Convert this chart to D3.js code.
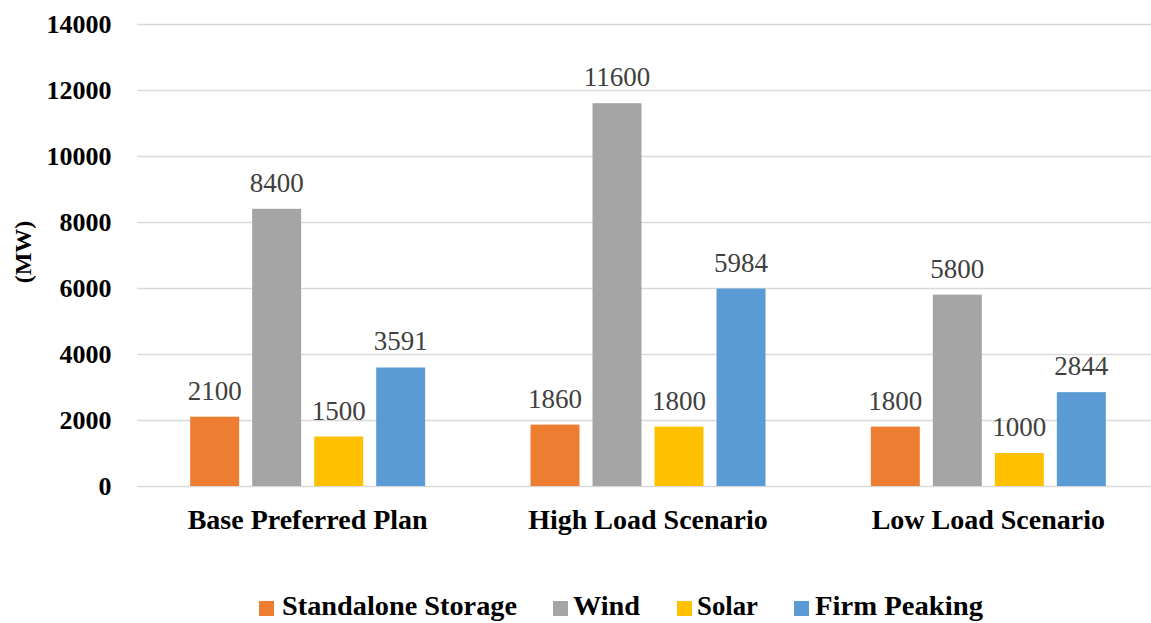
<!DOCTYPE html>
<html>
<head>
<meta charset="utf-8">
<script src="https://cdn.jsdelivr.net/npm/d3@7"></script>
<style>
  html, body { margin: 0; padding: 0; background: #fff; }
  svg { display: block; }
</style>
</head>
<body>
<svg id="chart" width="1151" height="623"></svg>
<script>
// Capacity additions by scenario (MW)
const scenarios = ["Base Preferred Plan", "High Load Scenario", "Low Load Scenario"];
const resources = ["Standalone Storage", "Wind", "Solar", "Firm Peaking"];
const standaloneStorage = [2100, 1860, 1800];
const wind = [8400, 11600, 5800];
const solar = [1500, 1800, 1000];
const firmPeaking = [3591, 5984, 2844];
const yTicks = [0, 2000, 4000, 6000, 8000, 10000, 12000, 14000];
const colors = ["#ED7D31", "#A5A5A5", "#FFC000", "#5B9BD5"];

const seriesValues = [standaloneStorage, wind, solar, firmPeaking];
const SERIF = "Liberation Serif";

const svg = d3.select("#chart");
const plot = { left: 137.5, right: 1158.5, top: 24, bottom: 486 };

const x0 = d3.scaleBand().domain(scenarios).range([plot.left, plot.right]).paddingInner(0).paddingOuter(0);
const groupWidth = 235;
const x1 = d3.scaleBand().domain(resources)
  .range([(x0.bandwidth() - groupWidth) / 2, (x0.bandwidth() + groupWidth) / 2])
  .paddingInner(0.21).paddingOuter(0);
const y = d3.scaleLinear().domain([0, 14000]).range([plot.bottom, plot.top]);

// gridlines and tick labels
const yAxis = d3.axisLeft(y).tickValues(yTicks).tickFormat(d3.format("d"))
  .tickSize(-(plot.right - plot.left)).tickPadding(26);
const gy = svg.append("g").attr("transform", `translate(${plot.left},0)`).call(yAxis);
gy.attr("font-family", SERIF);
gy.select(".domain").remove();
gy.selectAll(".tick line").attr("stroke", "#d9d9d9").attr("stroke-width", 1.5);
gy.selectAll(".tick text")
  .attr("font-weight", "bold").attr("font-size", 26).attr("fill", "#000")
  .attr("dy", "0.34em");

// y-axis title
svg.append("text")
  .attr("transform", "translate(31,252) rotate(-90)")
  .attr("text-anchor", "middle")
  .attr("font-family", SERIF)
  .attr("font-weight", "bold").attr("font-size", 24).attr("fill", "#000")
  .text("(MW)");

// bars
const rows = scenarios.map((s, i) => ({ scenario: s, vals: resources.map((r, j) => ({ r, j, v: seriesValues[j][i] })) }));
const groups = svg.append("g").selectAll("g").data(rows).join("g")
  .attr("transform", d => `translate(${x0(d.scenario)},0)`);

groups.selectAll("rect").data(d => d.vals).join("rect")
  .attr("x", d => x1(d.r))
  .attr("width", x1.bandwidth())
  .attr("y", d => y(d.v))
  .attr("height", d => y(0) - y(d.v))
  .attr("fill", d => colors[d.j]);

// value labels
groups.selectAll("text.val").data(d => d.vals).join("text")
  .attr("class", "val")
  .attr("x", d => x1(d.r) + x1.bandwidth() / 2)
  .attr("y", d => y(d.v) - 17)
  .attr("text-anchor", "middle")
  .attr("font-family", SERIF)
  .attr("font-size", 27).attr("fill", "#404040")
  .text(d => d.v);

// category labels
svg.append("g").selectAll("text").data(scenarios).join("text")
  .attr("x", d => x0(d) + x0.bandwidth() / 2)
  .attr("y", 529)
  .attr("text-anchor", "middle")
  .attr("font-family", SERIF)
  .attr("font-weight", "bold").attr("font-size", 28).attr("fill", "#000")
  .text(d => d);

// legend
const legendItems = [
  { name: resources[0], sx: 259, tx: 282, w: 235 },
  { name: resources[1], sx: 553, tx: 573, w: 67 },
  { name: resources[2], sx: 677, tx: 697, w: 61 },
  { name: resources[3], sx: 794, tx: 815, w: 168 }
];
const legend = svg.append("g");
legendItems.forEach((d, i) => {
  legend.append("rect").attr("x", d.sx).attr("y", 601).attr("width", 15).attr("height", 15).attr("fill", colors[i]);
  legend.append("text").attr("x", d.tx).attr("y", 615)
    .attr("font-family", SERIF)
    .attr("font-weight", "bold").attr("font-size", 27).attr("fill", "#000")
    .attr("textLength", d.w).attr("lengthAdjust", "spacingAndGlyphs")
    .text(d.name);
});
</script>
</body>
</html>
